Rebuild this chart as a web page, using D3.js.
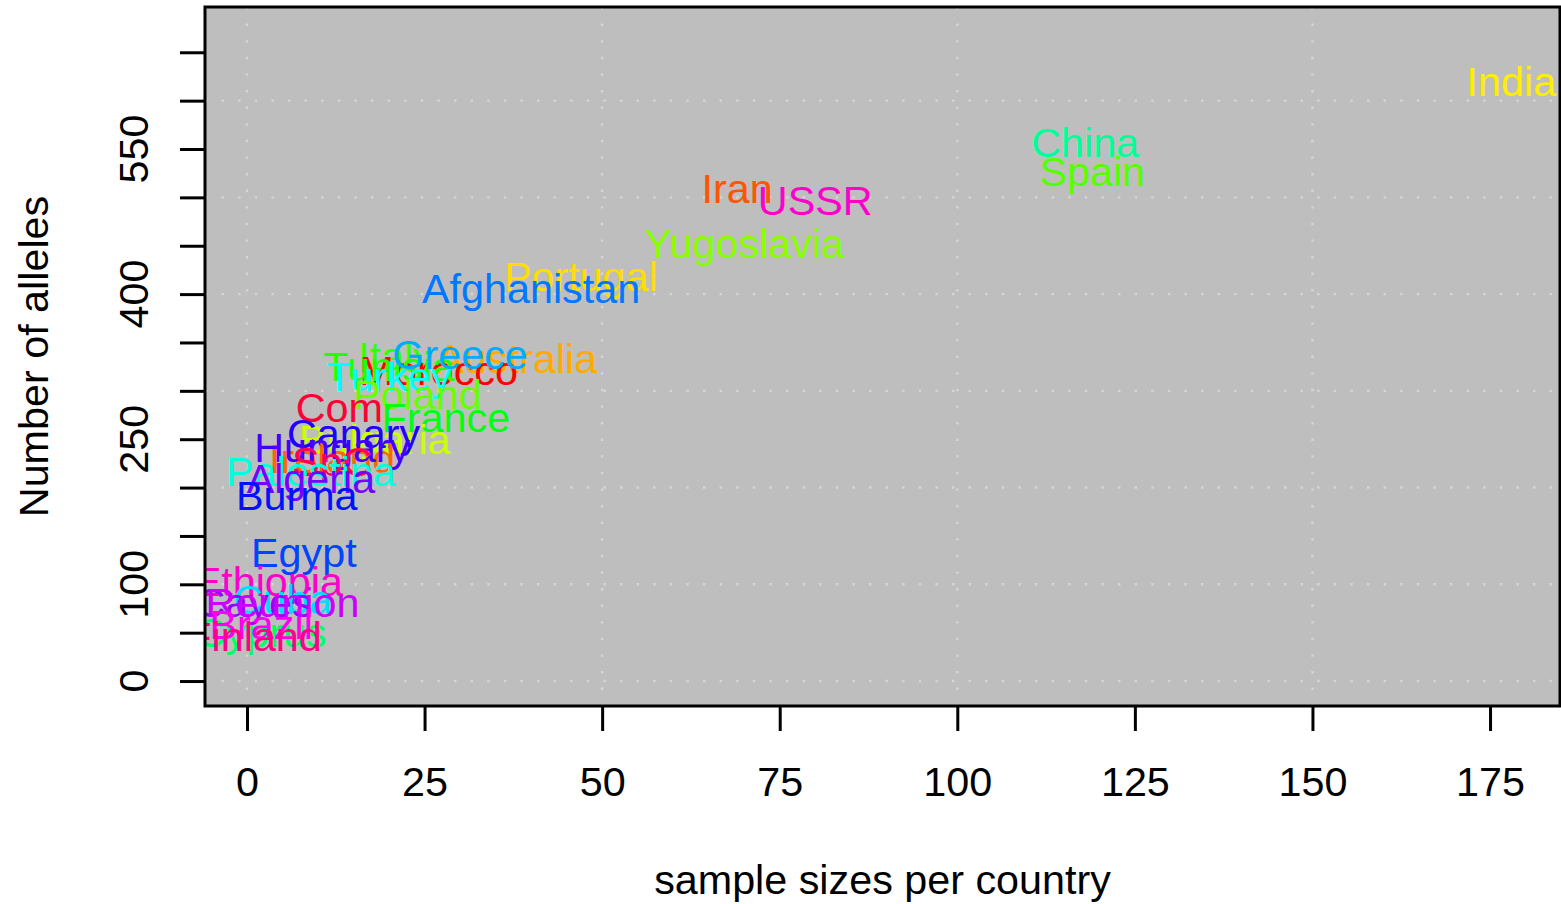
<!DOCTYPE html>
<html>
<head>
<meta charset="utf-8">
<script src="https://cdn.jsdelivr.net/npm/d3@7"></script>
<style>
  body { margin: 0; background: #fff; }
  svg text { font-family: "Liberation Sans", Arial, sans-serif; }
</style>
</head>
<body>
<div id="chart"></div>
<script>
// country labels, sample sizes (x) and allele counts (y)
const countries = ['India', 'China', 'Spain', 'Iran', 'USSR', 'Yugoslavia', 'Portugal', 'Afghanistan',
  'Australia', 'Italy', 'Morocco', 'Tunisia', 'Greece', 'Turkey', 'Poland', 'France', 'Com',
  'Bulgaria', 'Canary', 'Ireland', 'Hungary', 'SpC', 'Palestina', 'Algeria', 'Burma', 'Egypt',
  'Ethiopia', 'Cuba', 'Cayes', 'Reunion', 'Cyprus', 'Brazil', 'Finland'];
const sampleSizes = [178, 118, 119, 69, 80, 70, 47, 40,
  38, 21, 27, 20, 30, 20, 24, 28, 13,
  18, 15, 12, 12, 12, 9, 9, 7, 8,
  3, 5, 1, 5, 2, 2, 1];
const alleles = [620, 557, 527, 509, 497, 453, 418, 406,
  334, 336, 321, 325, 338, 315, 297, 273, 283,
  250, 256, 230, 242, 227, 217, 210, 192, 133,
  103, 85, 81, 81, 50, 59, 46];
const labelColors = ['#ffee00', '#00ff99', '#55ff00', '#ff5500', '#ff00cc', '#88ff00', '#ffdd00', '#0077ff',
  '#ffaa00', '#33ff00', '#ff0000', '#22ff00', '#00aaff', '#00ffff', '#66ff00', '#00ff11', '#ff0033',
  '#ccff00', '#2200ff', '#ff6600', '#4400ff', '#ff0055', '#00ffdd', '#7700ff', '#0011ff', '#0044ff',
  '#ff00cc', '#00ddff', '#9900ff', '#cc00ff', '#00ff66', '#ff00ee', '#ff0088'];

const xTicks = [0, 25, 50, 75, 100, 125, 150, 175];
const yTicks = [0, 50, 100, 150, 200, 250, 300, 350, 400, 450, 500, 550, 600, 650];
const yTickLabels = [0, 100, 250, 400, 550];
const xGrid = [0, 50, 100, 150];
const yGrid = [0, 100, 200, 300, 400, 500, 600];

const W = 1561, H = 904;
const plot = { left: 205, right: 1560, top: 7, bottom: 706 };
const fontSize = 41.3;

const x = d3.scaleLinear().domain([-5.91, 184.85]).range([plot.left, plot.right]);
const y = d3.scaleLinear().domain([-25.8, 696.8]).range([plot.bottom, plot.top]);

const svg = d3.select('#chart').append('svg')
  .attr('width', W)
  .attr('height', H);

svg.append('defs').append('clipPath').attr('id', 'plotclip')
  .append('rect')
  .attr('x', plot.left).attr('y', plot.top)
  .attr('width', plot.right - plot.left).attr('height', plot.bottom - plot.top);

// gray panel
svg.append('rect')
  .attr('x', plot.left).attr('y', plot.top)
  .attr('width', plot.right - plot.left).attr('height', plot.bottom - plot.top)
  .attr('fill', '#bebebe');

// dotted grid
const grid = svg.append('g').attr('clip-path', 'url(#plotclip)')
  .attr('stroke', '#d6d6d6').attr('stroke-width', 2.4).attr('stroke-dasharray', '2.4 14.2');
grid.selectAll('line.v').data(xGrid).join('line')
  .attr('class', 'v')
  .attr('x1', d => x(d)).attr('x2', d => x(d))
  .attr('y1', plot.top).attr('y2', plot.bottom);
grid.selectAll('line.h').data(yGrid).join('line')
  .attr('class', 'h')
  .attr('x1', plot.left).attr('x2', plot.right)
  .attr('y1', d => y(d)).attr('y2', d => y(d));

// labels
const data = countries.map((c, i) => ({ name: c, n: sampleSizes[i], a: alleles[i], col: labelColors[i] }));
svg.append('g').attr('clip-path', 'url(#plotclip)')
  .selectAll('text').data(data).join('text')
  .attr('x', d => x(d.n))
  .attr('y', d => y(d.a))
  .attr('dy', '0.358em')
  .attr('text-anchor', 'middle')
  .attr('font-size', fontSize)
  .attr('fill', d => d.col)
  .text(d => d.name);

// box
svg.append('rect')
  .attr('x', plot.left).attr('y', plot.top)
  .attr('width', plot.right - plot.left).attr('height', plot.bottom - plot.top)
  .attr('fill', 'none').attr('stroke', '#000').attr('stroke-width', 3);

// x axis
const xAxis = svg.append('g')
  .attr('transform', `translate(0,${plot.bottom})`)
  .call(d3.axisBottom(x).tickValues(xTicks).tickSize(25).tickSizeOuter(0));
xAxis.select('.domain').remove();
xAxis.selectAll('.tick line').attr('stroke-width', 3);
xAxis.selectAll('.tick text').attr('font-size', fontSize).attr('fill', '#000')
  .attr('font-family', '"Liberation Sans", Arial, sans-serif')
  .attr('y', 90).attr('dy', 0);

// y axis
const yAxis = svg.append('g')
  .attr('transform', `translate(${plot.left},0)`)
  .call(d3.axisLeft(y).tickValues(yTicks).tickSize(25).tickSizeOuter(0).tickFormat(''));
yAxis.select('.domain').remove();
yAxis.selectAll('.tick line').attr('stroke-width', 3);

svg.append('g').selectAll('text').data(yTickLabels).join('text')
  .attr('transform', d => `translate(148,${y(d)}) rotate(-90)`)
  .attr('text-anchor', 'middle')
  .attr('font-size', fontSize)
  .text(d => d);

// axis titles
svg.append('text')
  .attr('x', (plot.left + plot.right) / 2).attr('y', 894)
  .attr('text-anchor', 'middle')
  .attr('font-size', fontSize)
  .text('sample sizes per country');

svg.append('text')
  .attr('transform', `translate(48,${(plot.top + plot.bottom) / 2}) rotate(-90)`)
  .attr('text-anchor', 'middle')
  .attr('font-size', fontSize)
  .text('Number of alleles');
</script>
</body>
</html>
